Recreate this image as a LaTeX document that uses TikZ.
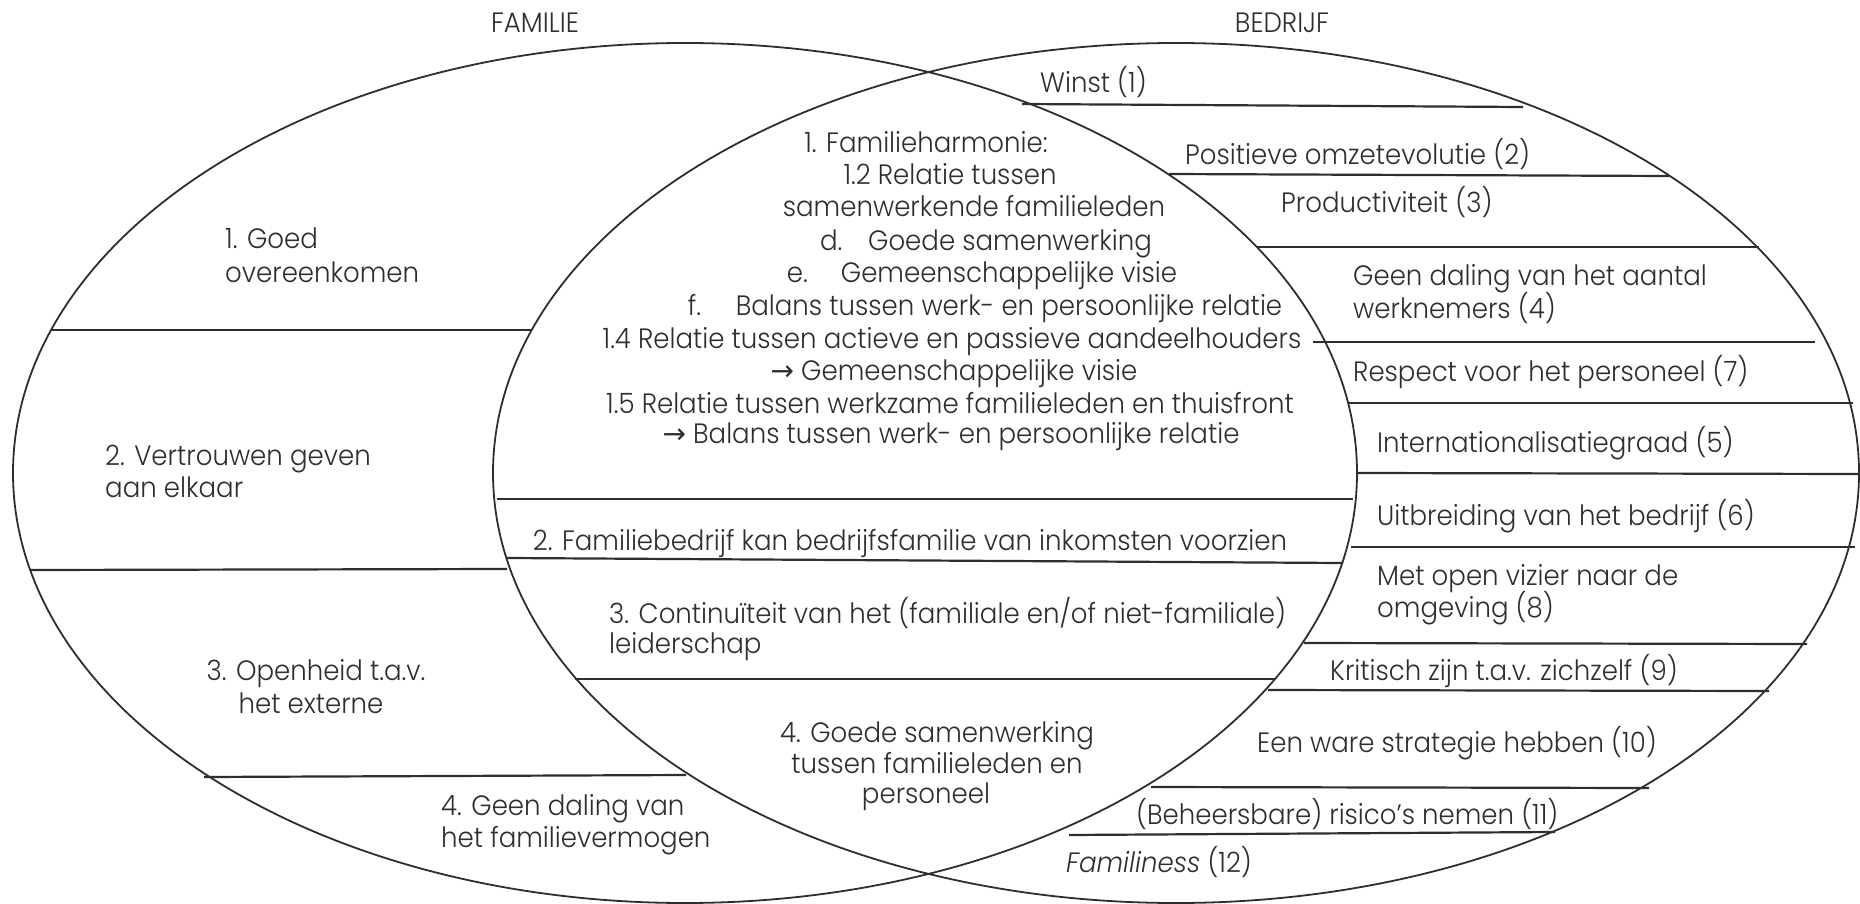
\documentclass[tikz,border=0pt]{standalone}
\usepackage{fontspec}
\setmainfont{Poppins}[UprightFont=*-Light, ItalicFont=*-LightItalic, FakeStretch=0.93]
\newfontfamily\arrowfont{DejaVu Sans}
\definecolor{ink}{HTML}{2E2E2E}
\newcommand{\arr}{{\arrowfont →}}
\begin{document}
\begin{tikzpicture}[x=1pt,y=-1pt,
  ell/.style={draw=ink, line width=1.8pt},
  sep/.style={draw=ink, line width=2.2pt},
  lbl/.style={inner sep=0pt, text=ink, yshift=-1pt, font=\fontsize{28}{33}\selectfont},
  lw/.style={lbl, anchor=base west},
  lc/.style={lbl, anchor=base}]
\useasboundingbox (0,0) rectangle (1860,904);

% the two overlapping sets
\draw[ell] (685,473) ellipse [x radius=672pt, y radius=430pt];
\draw[ell] (1176,473) ellipse [x radius=683pt, y radius=430pt];

% headings
\node[lc] (famhead) at (535,32) {FAMILIE};
\node[lc] (bedhead) at (1282,32) {BEDRIJF};

% family-only band
\node[lw] (f1a) at (225,247) {1. Goed};
\node[lw] (f1b) at (225,281) {overeenkomen};
\draw[sep] (51,330) -- (531,330);
\node[lw] (f2a) at (105,464) {2. Vertrouwen geven};
\node[lw] (f2b) at (105,496) {aan elkaar};
\draw[sep] (30,570) -- (507,569);
\node[lc] (f3a) at (316,679) {3. Openheid t.a.v.};
\node[lc] (f3b) at (311,712) {het externe};
\draw[sep] (204,777) -- (686,775);
\node[lw] (f4a) at (441,814) {4. Geen daling van};
\node[lw] (f4b) at (441,846) {het familievermogen};

% shared band
\node[lc] (c1a) at (926,152) {1. Familieharmonie:};
\node[lc] (c1b) at (950,184) {1.2 Relatie tussen};
\node[lc] (c1c) at (974,216) {samenwerkende familieleden};
\node[lc] (c1d) at (986,249) {\makebox[48pt][l]{d.}Goede samenwerking};
\node[lc] (c1e) at (982,281) {\makebox[54pt][l]{e.}Gemeenschappelijke visie};
\node[lc] (c1f) at (985,314) {\makebox[48pt][l]{f.}Balans tussen werk- en persoonlijke relatie};
\node[lc] (c1g) at (952,347) {1.4 Relatie tussen actieve en passieve aandeelhouders};
\node[lc] (c1h) at (954,379) {\arr\ Gemeenschappelijke visie};
\node[lc] (c1i) at (950,412) {1.5 Relatie tussen werkzame familieleden en thuisfront};
\node[lc] (c1j) at (951,442) {\arr\ Balans tussen werk- en persoonlijke relatie};
\draw[sep] (497,499) -- (1353,499);
\node[lc] (c2) at (910,549) {2. Familiebedrijf kan bedrijfsfamilie van inkomsten voorzien};
\draw[sep] (507,558) -- (1343,563);
\node[lw] (c3a) at (609,622) {3. Continuïteit van het (familiale en/of niet-familiale)};
\node[lw] (c3b) at (609,652) {leiderschap};
\draw[sep] (575,679) -- (1275,679);
\node[lc] (c4a) at (937,741) {4. Goede samenwerking};
\node[lc] (c4b) at (937,772) {tussen familieleden en};
\node[lc] (c4c) at (926,802) {personeel};

% business-only band
\node[lw] (b1) at (1040,92) {Winst (1)};
\draw[sep] (1022,104) -- (1523,107);
\node[lw] (b2) at (1185,164) {Positieve omzetevolutie (2)};
\draw[sep] (1169,174) -- (1669,176);
\node[lw] (b3) at (1281,211) {Productiviteit (3)};
\draw[sep] (1257,247) -- (1759,247);
\node[lw] (b4a) at (1353,284) {Geen daling van het aantal};
\node[lw] (b4b) at (1353,317) {werknemers (4)};
\draw[sep] (1313,342) -- (1815,342);
\node[lw] (b7) at (1353,380) {Respect voor het personeel (7)};
\draw[sep] (1349,403) -- (1853,403);
\node[lw] (b5) at (1377,451) {Internationalisatiegraad (5)};
\draw[sep] (1358,473) -- (1860,474);
\node[lw] (b6) at (1377,524) {Uitbreiding van het bedrijf (6)};
\draw[sep] (1351,547) -- (1855,547);
\node[lw] (b8a) at (1377,584) {Met open vizier naar de};
\node[lw] (b8b) at (1377,616) {omgeving (8)};
\draw[sep] (1304,643) -- (1807,644);
\node[lw] (b9) at (1330,679) {Kritisch zijn t.a.v. zichzelf (9)};
\draw[sep] (1268,690) -- (1769,691);
\node[lw] (b10) at (1257,751) {Een ware strategie hebben (10)};
\draw[sep] (1151,787) -- (1649,788);
\node[lw] (b11) at (1136,823) {(Beheersbare) risico’s nemen (11)};
\draw[sep] (1069,835) -- (1555,832);
\node[lw] (b12) at (1066,871) {\emph{Familiness} (12)};
\end{tikzpicture}
\end{document}
